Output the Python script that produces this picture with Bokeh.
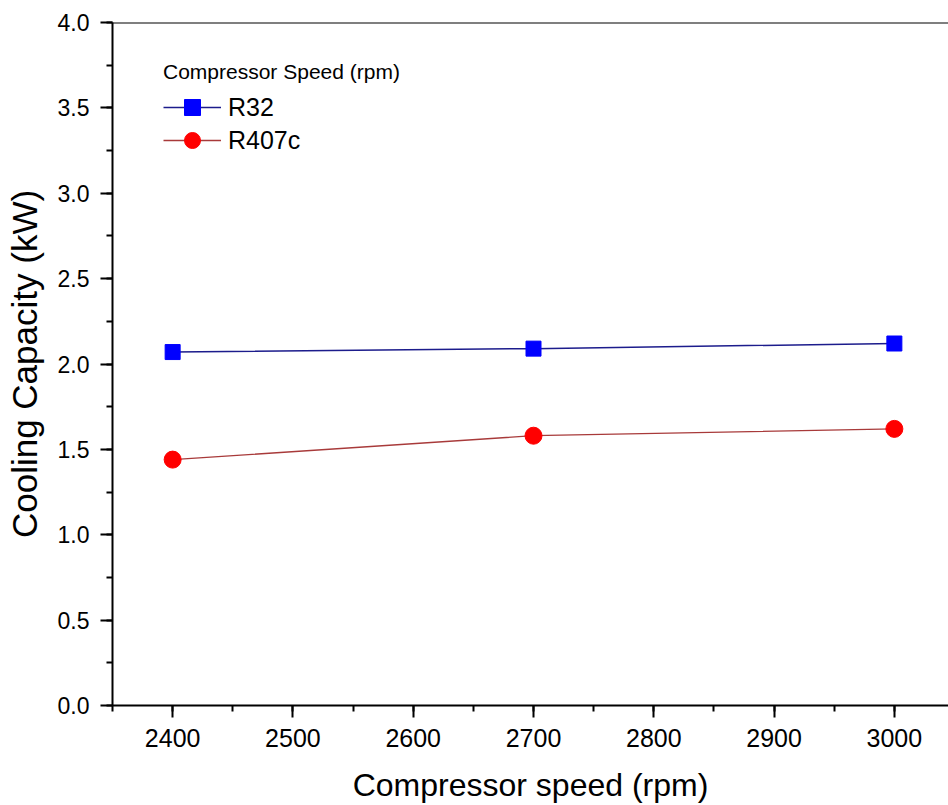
from bokeh.plotting import figure
from bokeh.models import (Range1d, SingleIntervalTicker, NumeralTickFormatter,
                          Legend, LegendItem, Span)
from bokeh.embed import file_html
from bokeh.resources import INLINE

# ---- data ----
speed = [2400, 2700, 3000]
r32 = [2.07, 2.09, 2.12]
r407c = [1.44, 1.58, 1.62]
series_names = ["R32", "R407c"]
legend_title = "Compressor Speed (rpm)"
x_title = "Compressor speed (rpm)"
y_title = "Cooling Capacity (kW)"

FONT = "Liberation Sans"

p = figure(width=948, height=805, output_backend="svg", toolbar_location=None,
           x_range=Range1d(2350, 3045), y_range=Range1d(0, 4.0),
           min_border_left=112, min_border_right=0, min_border_top=22,
           min_border_bottom=100)
p.outline_line_color = None
p.xgrid.visible = False
p.ygrid.visible = False
p.background_fill_color = "white"
p.border_fill_color = "white"

p.xaxis.ticker = SingleIntervalTicker(interval=100, num_minor_ticks=2)
p.yaxis.ticker = SingleIntervalTicker(interval=0.5, num_minor_ticks=2)
p.yaxis.formatter = NumeralTickFormatter(format="0.0")

for ax in (p.xaxis[0], p.yaxis[0]):
    ax.axis_line_width = 2
    ax.axis_line_color = "black"
    ax.major_tick_line_width = 2
    ax.minor_tick_line_width = 2
    ax.major_tick_line_color = "black"
    ax.minor_tick_line_color = "black"
    ax.major_tick_out = 12
    ax.major_tick_in = 0
    ax.minor_tick_out = 6
    ax.minor_tick_in = 0
    ax.major_label_text_font = FONT
    ax.major_label_text_color = "black"
    ax.axis_label_text_font = FONT
    ax.axis_label_text_font_style = "normal"
    ax.axis_label_text_color = "black"

p.xaxis.major_label_text_font_size = "25px"
p.yaxis.major_label_text_font_size = "23px"
p.xaxis.axis_label_text_font_size = "32px"
p.yaxis.axis_label_text_font_size = "35px"
p.xaxis.major_label_standoff = 11
p.yaxis.major_label_standoff = 11
p.xaxis.axis_label = x_title
p.yaxis.axis_label = y_title
p.xaxis.axis_label_standoff = 17
p.yaxis.axis_label_standoff = 11

# top frame line
p.add_layout(Span(location=4.0, dimension="width", line_color="black", line_width=2))

l1 = p.line(speed, r32, line_color="#1c1c8c", line_width=1.5)
m1 = p.scatter(speed, r32, marker="square", size=15, fill_color="#0000ff",
               line_color="#0000ff")
l2 = p.line(speed, r407c, line_color="#a83a3a", line_width=1.3)
m2 = p.scatter(speed, r407c, marker="circle", size=17, fill_color="#ff0000",
               line_color="#ff0000")


def style_legend(lg):
    lg.title_text_font = FONT
    lg.title_text_font_size = "21px"
    lg.title_text_font_style = "normal"
    lg.title_text_color = "black"
    lg.title_standoff = 3
    lg.label_text_font = FONT
    lg.label_text_font_size = "25px"
    lg.label_text_color = "black"
    lg.glyph_width = 58
    lg.glyph_height = 40
    lg.label_height = 40
    lg.spacing = 0
    lg.label_standoff = 7
    lg.padding = 0
    lg.margin = 0
    lg.border_line_color = None
    lg.background_fill_alpha = 0


legend1 = Legend(items=[LegendItem(label=series_names[0], renderers=[l1, m1])],
                 location=(51, 578), title=legend_title)
legend2 = Legend(items=[LegendItem(label=series_names[1], renderers=[l2, m2])],
                 location=(51, 545))
style_legend(legend1)
style_legend(legend2)
p.add_layout(legend1)
p.add_layout(legend2)

open("out.html", "w").write(file_html(p, INLINE))
